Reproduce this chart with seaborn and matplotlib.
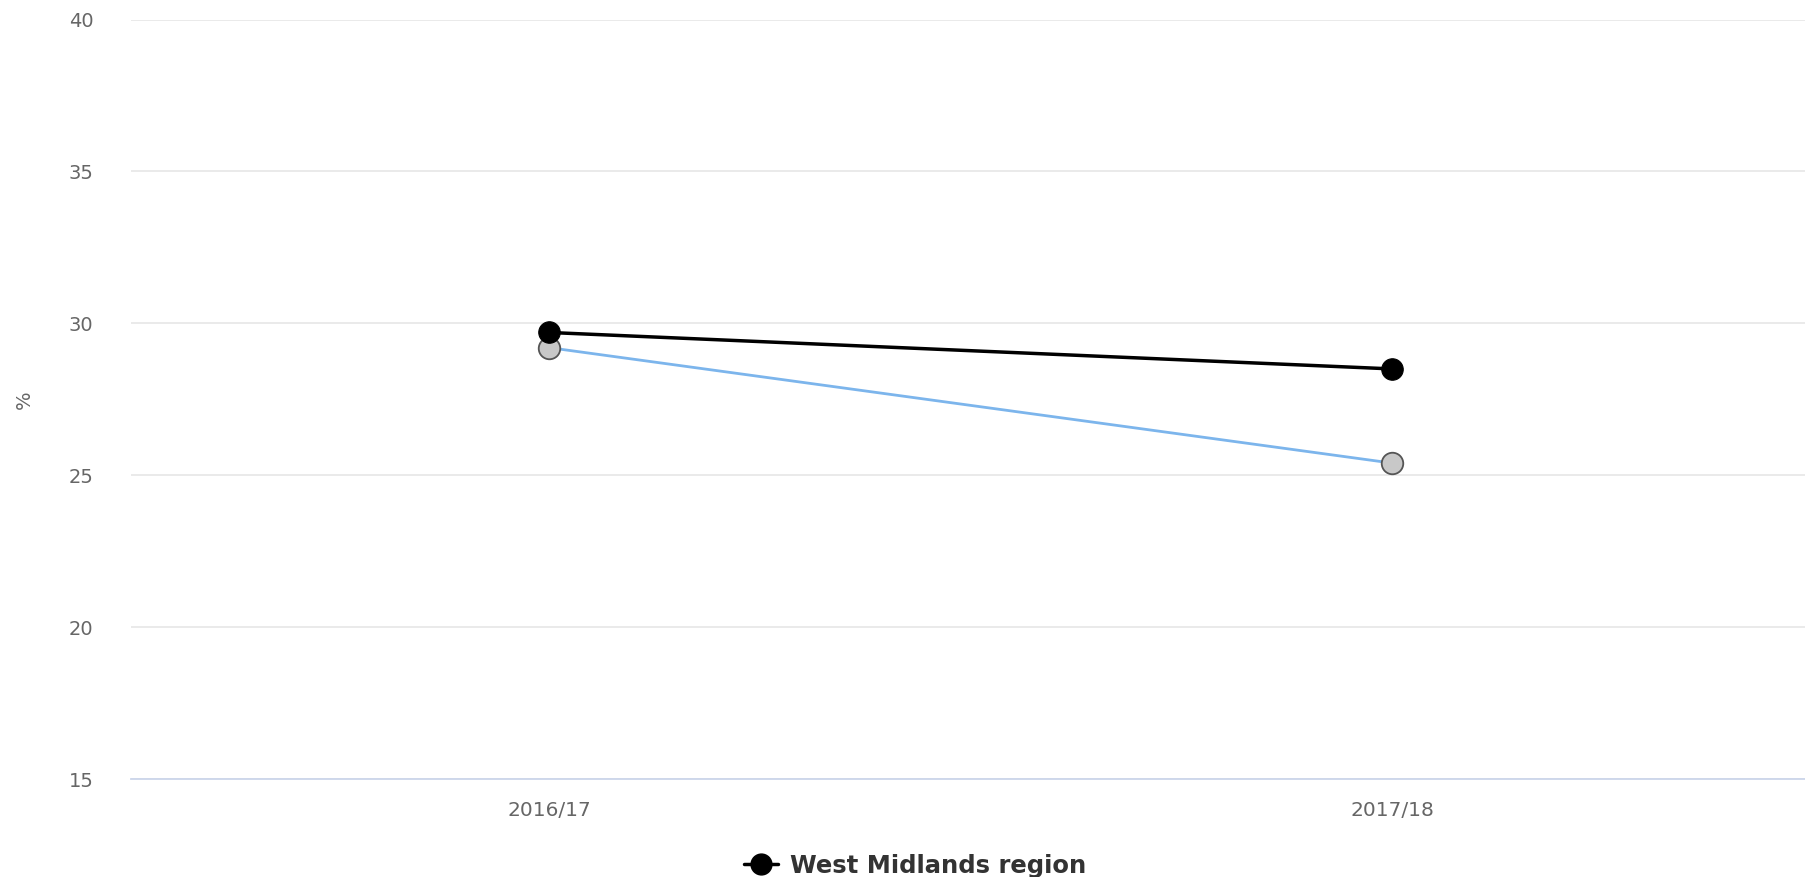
import matplotlib.pyplot as plt
import pandas
import seaborn as sns
from matplotlib.lines import Line2D

# data
years = ["2016/17", "2017/18"]
west_midlands = [29.7, 28.5]
comparator = [29.2, 25.4]
y_ticks = [15, 20, 25, 30, 35, 40]

sns.set_style("white")
plt.rcParams["font.family"] = ["DejaVu Sans"]

df_wm = pandas.DataFrame({"year": years, "value": west_midlands})
df_cmp = pandas.DataFrame({"year": years, "value": comparator})

fig = plt.figure(figsize=(18.05, 8.77), dpi=100)
ax = fig.add_axes([0.0726, 0.1117, 0.9274, 0.866])

sns.lineplot(
    data=df_cmp, x="year", y="value", ax=ax, color="#7cb5ec", linewidth=2.0,
    marker="o", markersize=15.5, markerfacecolor="#c8c8c8",
    markeredgecolor="#555555", markeredgewidth=1.3, legend=False, zorder=3,
)
sns.lineplot(
    data=df_wm, x="year", y="value", ax=ax, color="black", linewidth=2.5,
    marker="o", markersize=15.5, markerfacecolor="black",
    markeredgecolor="black", legend=False, zorder=4,
)

ax.set_xlim(-0.496, 1.49)
ax.set_ylim(15, 40)
ax.set_yticks(y_ticks)
ax.grid(axis="y", color="#e6e6e6", linewidth=1.2)
ax.set_axisbelow(True)
for side in ["left", "right", "top"]:
    ax.spines[side].set_visible(False)
ax.spines["bottom"].set_color("#ccd6eb")
ax.spines["bottom"].set_linewidth(1.3)

ax.tick_params(axis="y", length=0, pad=27, labelsize=14, labelcolor="#666666")
ax.tick_params(axis="x", length=10, width=1.2, color="#ccd6eb", pad=6,
               labelsize=14.5, labelcolor="#666666", direction="out")
ax.set_xlabel("")
ax.set_ylabel("%", fontsize=14, color="#666666", labelpad=25)

handle = Line2D([0], [0], color="black", linewidth=2.5, marker="o",
                markersize=15, markerfacecolor="black")
fig.legend([handle], ["West Midlands region"], loc="center",
           bbox_to_anchor=(0.507, 0.013), frameon=False, handlelength=1.4,
           handletextpad=0.5, prop={"weight": "bold", "size": 17.5},
           labelcolor="#333333")

plt.savefig("out.png", dpi=100)
plt.close()
